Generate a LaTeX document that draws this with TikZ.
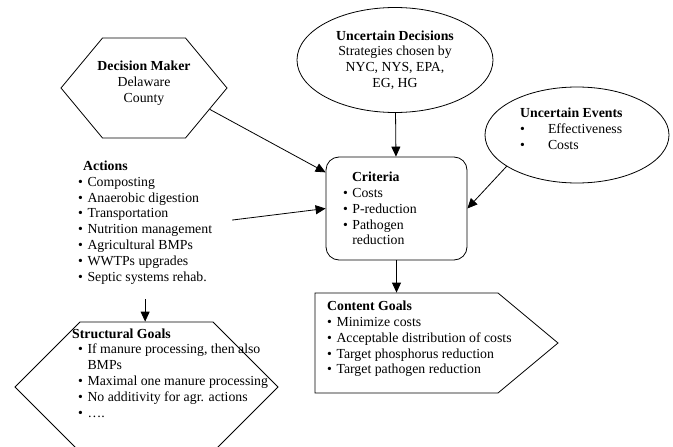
\documentclass[tikz,border=0pt]{standalone}
\usepackage{fontspec}
\setmainfont{Liberation Serif}
\usetikzlibrary{arrows.meta,shapes.geometric,shapes.symbols}
\tikzset{
  shp/.style={draw, line width=0.8pt, inner sep=0pt},
  lbl/.style={inner sep=0pt, align=left},
  arr/.style={line width=0.8pt, -{Triangle[length=10pt,width=9pt]}},
}
\newcommand{\bl}{\textbullet\hspace{4.5pt}}
\begin{document}
\begin{tikzpicture}[x=1pt,y=-1pt,font=\fontsize{13.8}{15.8}\selectfont]
  \useasboundingbox (0,0) rectangle (673,447);
  \clip (0,0) rectangle (673,447);
  \node[shp, signal, signal to=east and west, signal pointer angle=100.6,
    minimum width=166pt, minimum height=100pt] (dm) at (144,88) {};
  \node[lbl, align=center] (dmt) at (144,83) {\textbf{Decision Maker}\\Delaware\\County};
  \node[shp, ellipse, align=center, minimum width=196pt, minimum height=105pt] (ud) at (395,60)
    {\textbf{Uncertain Decisions}\\Strategies chosen by\\NYC, NYS, EPA,\\EG, HG};
  \node[shp, ellipse, minimum width=184pt, minimum height=96pt] (ue) at (577,135) {};
  \node[lbl, anchor=west] (uet) at (520,129)
    {\textbf{Uncertain Events}\\\textbullet\hspace{23pt}Effectiveness\\\textbullet\hspace{23pt}Costs};
  \node[shp, rounded corners=13pt, minimum width=141pt, minimum height=103pt,
    text width=107pt, inner xsep=17pt, align=left] (crit) at (396.5,208.5)
    {\hspace*{9pt}\textbf{Criteria}\\\bl Costs\\\bl P-reduction\\\bl Pathogen\\\hphantom{\bl}reduction};
  \node[lbl, anchor=west] (act) at (78,222.5)
    {\hspace*{5pt}\textbf{Actions}\\\bl Composting\\\bl Anaerobic digestion\\\bl Transportation\\
     \bl Nutrition management\\\bl Agricultural BMPs\\\bl WWTPs upgrades\\\bl Septic systems rehab.};
  \node[shp, signal, signal to=east and west, signal pointer angle=90,
    minimum width=263pt, minimum height=130pt] (sg) at (146.5,387) {};
  \node[lbl, anchor=west] (sgt) at (72,373)
    {\textbf{Structural Goals}\\\hspace*{6pt}\bl If manure processing, then also\\
     \hspace*{6pt}\hphantom{\bl}BMPs\\\hspace*{6pt}\bl Maximal one manure processing\\
     \hspace*{6pt}\bl No additivity for agr. actions\\\hspace*{6pt}\bl ….};
  \node[shp, signal, signal to=east, signal pointer angle=79.6,
    minimum width=243pt, minimum height=100pt] (cg) at (406.5,343) {};
  \node[lbl, anchor=west] (cgt) at (327,339)
    {\textbf{Content Goals}\\\bl Minimize costs\\\bl Acceptable distribution of costs\\
     \bl Target phosphorus reduction\\\bl Target pathogen reduction};
  \draw[arr] (dm.-18) to (crit.153);
  \draw[arr] (ud) to (crit);
  \draw[arr] (ue.-156) to (crit.east);
  \draw[arr, shorten <=20pt] (act.east) to (crit.west);
  \draw[arr, shorten <=15pt] (act.south) to (act.south |- sg.north);
  \draw[arr] (crit.south) to (crit.south |- cg.north);
\end{tikzpicture}
\end{document}
